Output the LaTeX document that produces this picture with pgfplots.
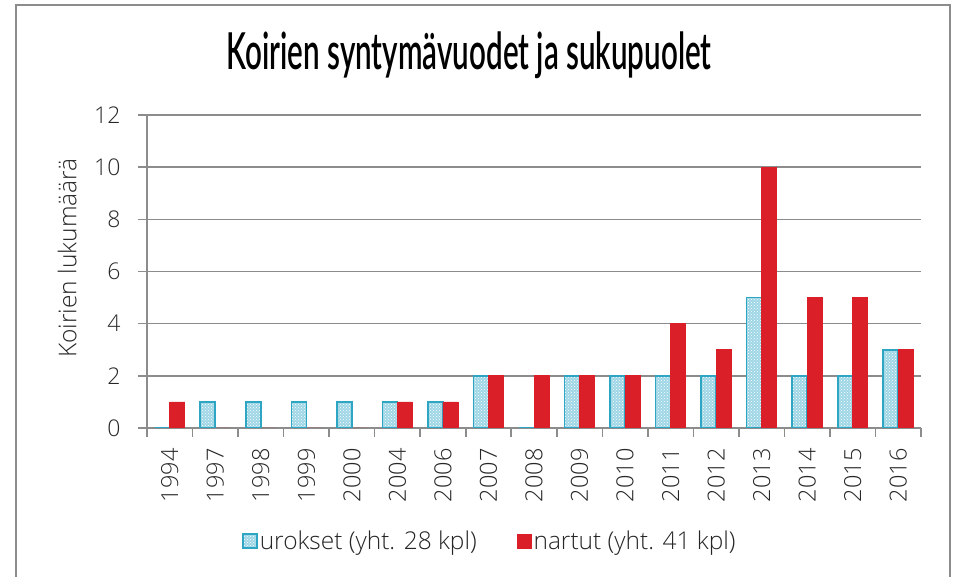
\documentclass[border=0pt]{standalone}
\usepackage{pgfplots}
\pgfplotsset{compat=1.18}
\usetikzlibrary{patterns}
\usepackage{fontspec}
\IfFontExistsTF{Open Sans Light}{\setmainfont{Open Sans Light}}{\setmainfont{Open Sans}}
\IfFontExistsTF{Lato Semibold}{\newfontfamily\titlefont[FakeStretch=0.58]{Lato Semibold}}{\newfontfamily\titlefont[FakeStretch=0.58]{Lato}}
\definecolor{uro}{HTML}{9ED6E6}
\definecolor{uroedge}{HTML}{2DA5C3}
\definecolor{nar}{HTML}{DA1F29}
\definecolor{gridc}{HTML}{8C8C8C}
\definecolor{txt}{HTML}{262626}
\pgfplotstableread{
x year uro nar
0 1994 0 1
1 1997 1 0
2 1998 1 0
3 1999 1 0
4 2000 1 0
5 2004 1 1
6 2006 1 1
7 2007 2 2
8 2008 0 2
9 2009 2 2
10 2010 2 2
11 2011 2 4
12 2012 2 3
13 2013 5 10
14 2014 2 5
15 2015 2 5
16 2016 3 3
}\datatable
\begin{document}
\begin{tikzpicture}[x=1pt,y=1pt]
\path[use as bounding box] (0,0) rectangle (955,577);
\draw[gridc, line width=1.6pt] (16,-5) -- (16,572) -- (950,572) -- (950,-5);
\node[font=\titlefont\fontsize{51}{54}\selectfont, text=black, anchor=base, inner sep=0pt] at (469,507) {Koirien syntymävuodet ja sukupuolet};
\begin{axis}[
  at={(147pt,149pt)}, anchor=south west,
  scale only axis, width=774pt, height=313pt,
  ybar=0pt, bar width=15pt,
  xmin=-0.5, xmax=16.5, ymin=0, ymax=12,
  xtick={0,...,16},
  xticklabels={1994,1997,1998,1999,2000,2004,2006,2007,2008,2009,2010,2011,2012,2013,2014,2015,2016},
  minor xtick={-0.5,0.5,...,16.5},
  major x tick style={draw=none},
  ytick={0,2,...,12},
  ymajorgrids,
  grid style={gridc, line width=1.6pt},
  axis x line*=bottom, axis y line*=left,
  axis line style={-, gridc, line width=1.6pt},
  tick style={gridc, line width=1.6pt},
  tick align=outside,
  major tick length=9pt, minor tick length=9pt,
  ytick pos=left,
  /pgf/number format/assume math mode=true,
  tick label style={font=\fontsize{23}{24}\selectfont, text=txt},
  xticklabel style={rotate=90, anchor=east, font=\fontsize{23.5}{24}\selectfont},
  xticklabel shift=8pt,
  yticklabel shift=14pt,
  ylabel={Koirien lukumäärä},
  ylabel style={at={(axis description cs:-0.103,0.543)}, anchor=center, font=\fontsize{24.5}{26}\selectfont, text=txt},
  legend style={at={(axis description cs:0.443,-0.361)}, anchor=center, draw=none, fill=none,
    legend columns=2, font=\fontsize{24.5}{26}\selectfont, text=txt,
    /tikz/every even column/.append style={column sep=38pt}},
  legend image code/.code={\draw[#1] (0pt,-7pt) rectangle (14pt,7pt);},
]
\addplot[fill=uro, draw=uroedge, line width=1.6pt, postaction={pattern=crosshatch dots, pattern color=white}] table[x=x, y=uro] {\datatable};
\addlegendentry{urokset (yht. 28 kpl)}
\addplot[fill=nar, draw=nar, line width=0.8pt] table[x=x, y=nar] {\datatable};
\addlegendentry{nartut (yht. 41 kpl)}
\end{axis}
\end{tikzpicture}
\end{document}
